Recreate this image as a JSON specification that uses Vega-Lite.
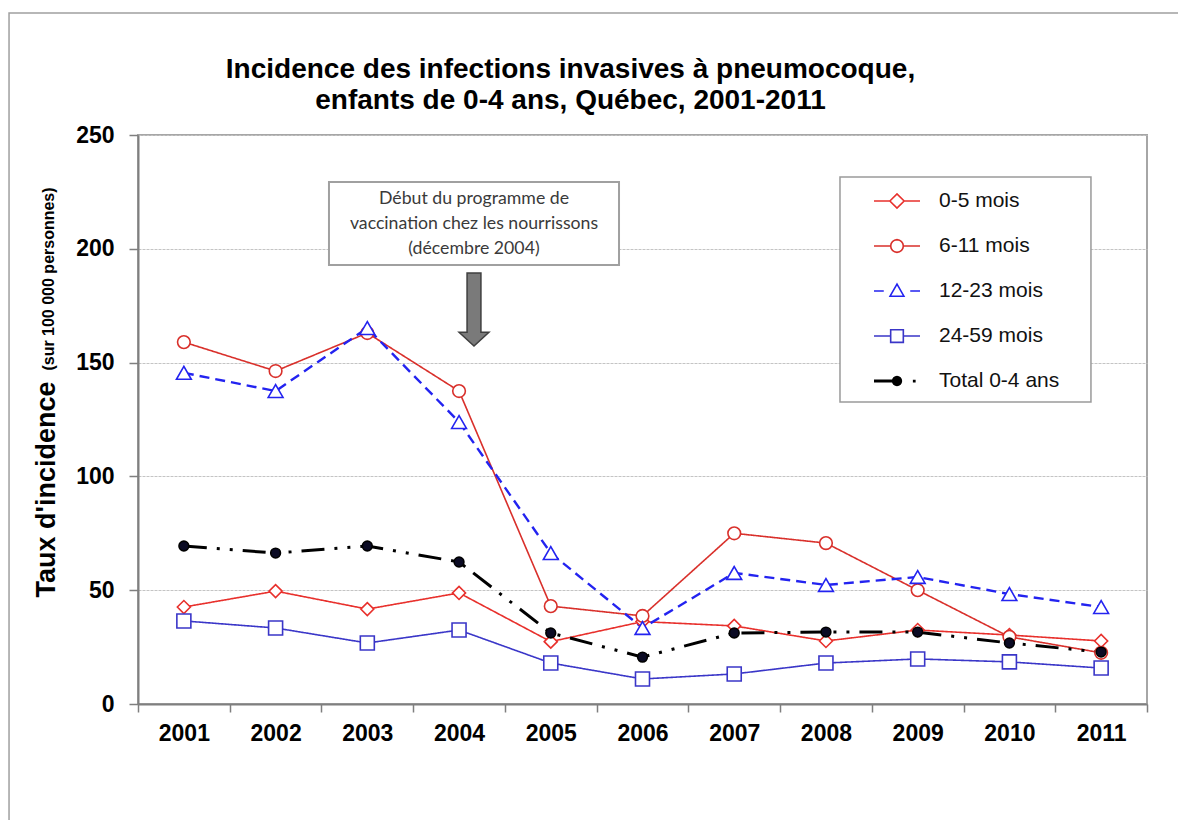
{
  "$schema": "https://vega.github.io/schema/vega-lite/v6.json",
  "width": 1009,
  "height": 569,
  "autosize": {"type": "none"},
  "padding": {"left": 138, "top": 135, "right": 31, "bottom": 116},
  "background": "white",
  "config": {
    "font": "Liberation Sans",
    "view": {"stroke": "#a6a6a6", "strokeWidth": 2},
    "legend": {
      "orient": "none",
      "legendX": 702,
      "legendY": 42,
      "padding": 11.5,
      "symbolSize": 529,
      "symbolStrokeWidth": 1.6,
      "symbolOffset": 33,
      "labelOffset": 29.5,
      "rowPadding": 22,
      "labelFont": "Liberation Sans",
      "labelFontSize": 21,
      "labelColor": "#111111",
      "labelLimit": 400
    }
  },
  "title": {
    "text": ["Incidence des infections invasives à pneumocoque,", "enfants de 0-4 ans, Québec, 2001-2011"],
    "font": "Liberation Sans",
    "fontSize": 28,
    "fontWeight": "bold",
    "color": "#000000",
    "anchor": "middle",
    "frame": "group",
    "dx": -72,
    "dy": 115,
    "offset": 12,
    "lineHeight": 31
  },
  "datasets": {
    "d": [
      {"year": 2001, "s": "0-5 mois", "v": 42.6},
      {"year": 2002, "s": "0-5 mois", "v": 49.6},
      {"year": 2003, "s": "0-5 mois", "v": 41.7},
      {"year": 2004, "s": "0-5 mois", "v": 48.8},
      {"year": 2005, "s": "0-5 mois", "v": 27.4},
      {"year": 2006, "s": "0-5 mois", "v": 36.2},
      {"year": 2007, "s": "0-5 mois", "v": 34.3},
      {"year": 2008, "s": "0-5 mois", "v": 27.7},
      {"year": 2009, "s": "0-5 mois", "v": 32.5},
      {"year": 2010, "s": "0-5 mois", "v": 30.3},
      {"year": 2011, "s": "0-5 mois", "v": 27.7},
      {"year": 2001, "s": "6-11 mois", "v": 159.0},
      {"year": 2002, "s": "6-11 mois", "v": 146.3},
      {"year": 2003, "s": "6-11 mois", "v": 163.0},
      {"year": 2004, "s": "6-11 mois", "v": 137.5},
      {"year": 2005, "s": "6-11 mois", "v": 43.0},
      {"year": 2006, "s": "6-11 mois", "v": 38.7},
      {"year": 2007, "s": "6-11 mois", "v": 75.0},
      {"year": 2008, "s": "6-11 mois", "v": 70.7},
      {"year": 2009, "s": "6-11 mois", "v": 50.0},
      {"year": 2010, "s": "6-11 mois", "v": 29.5},
      {"year": 2011, "s": "6-11 mois", "v": 22.5},
      {"year": 2001, "s": "12-23 mois", "v": 145.5},
      {"year": 2002, "s": "12-23 mois", "v": 137.5},
      {"year": 2003, "s": "12-23 mois", "v": 165.2},
      {"year": 2004, "s": "12-23 mois", "v": 123.9},
      {"year": 2005, "s": "12-23 mois", "v": 66.3},
      {"year": 2006, "s": "12-23 mois", "v": 33.4},
      {"year": 2007, "s": "12-23 mois", "v": 57.6},
      {"year": 2008, "s": "12-23 mois", "v": 52.3},
      {"year": 2009, "s": "12-23 mois", "v": 55.8},
      {"year": 2010, "s": "12-23 mois", "v": 48.3},
      {"year": 2011, "s": "12-23 mois", "v": 42.6},
      {"year": 2001, "s": "24-59 mois", "v": 36.5},
      {"year": 2002, "s": "24-59 mois", "v": 33.4},
      {"year": 2003, "s": "24-59 mois", "v": 26.8},
      {"year": 2004, "s": "24-59 mois", "v": 32.5},
      {"year": 2005, "s": "24-59 mois", "v": 18.0},
      {"year": 2006, "s": "24-59 mois", "v": 11.0},
      {"year": 2007, "s": "24-59 mois", "v": 13.2},
      {"year": 2008, "s": "24-59 mois", "v": 18.0},
      {"year": 2009, "s": "24-59 mois", "v": 19.8},
      {"year": 2010, "s": "24-59 mois", "v": 18.5},
      {"year": 2011, "s": "24-59 mois", "v": 15.8},
      {"year": 2001, "s": "Total 0-4 ans", "v": 69.4},
      {"year": 2002, "s": "Total 0-4 ans", "v": 66.3},
      {"year": 2003, "s": "Total 0-4 ans", "v": 69.4},
      {"year": 2004, "s": "Total 0-4 ans", "v": 62.4},
      {"year": 2005, "s": "Total 0-4 ans", "v": 31.2},
      {"year": 2006, "s": "Total 0-4 ans", "v": 20.6},
      {"year": 2007, "s": "Total 0-4 ans", "v": 31.2},
      {"year": 2008, "s": "Total 0-4 ans", "v": 31.6},
      {"year": 2009, "s": "Total 0-4 ans", "v": 31.6},
      {"year": 2010, "s": "Total 0-4 ans", "v": 26.8},
      {"year": 2011, "s": "Total 0-4 ans", "v": 22.8}
    ]
  },
  "data": {"name": "d"},
  "resolve": {"scale": {"shape": "independent", "fill": "independent", "color": "independent"}},
  "layer": [
    {
      "data": {"values": [{}]},
      "mark": {"type": "rect", "filled": false, "stroke": "#a0a0a0", "strokeWidth": 1.5, "clip": false},
      "encoding": {
        "x": {"datum": 1999.094, "type": "quantitative", "scale": {"domain": [2000.5, 2011.5], "nice": false, "zero": false}},
        "x2": {"datum": 2012.078},
        "y": {"datum": 303.6, "type": "quantitative", "scale": {"domain": [0, 250], "nice": false}},
        "y2": {"datum": -59.8}
      }
    },
    {
      "mark": {"type": "line", "clip": false},
      "encoding": {
        "x": {
          "field": "year", "type": "quantitative",
          "scale": {"domain": [2000.5, 2011.5], "nice": false, "zero": false},
          "axis": {
            "values": [2000.5, 2001.5, 2002.5, 2003.5, 2004.5, 2005.5, 2006.5, 2007.5, 2008.5, 2009.5, 2010.5, 2011.5],
            "labelExpr": "datum.value < 2011 ? format(datum.value + 0.5, 'd') : ''",
            "labelOffset": 45.86,
            "labelFlush": false,
            "labelOverlap": false,
            "labelBound": false,
            "labelFont": "Liberation Sans",
            "labelFontSize": 23,
            "labelFontWeight": "bold",
            "labelColor": "#000000",
            "labelPadding": 10,
            "tickSize": 8,
            "tickColor": "#7f7f7f",
            "tickWidth": 1.5,
            "domainColor": "#7f7f7f",
            "domainWidth": 2,
            "grid": false,
            "title": "(sur 100 000 personnes)",
            "titleFont": "Liberation Sans",
            "titleFontSize": 16,
            "titleFontWeight": "bold",
            "titleColor": "#000000",
            "titleAngle": -90,
            "titleAlign": "center",
            "titleBaseline": "alphabetic",
            "titleX": -85,
            "titleY": -425.5
          }
        },
        "y": {
          "field": "v", "type": "quantitative",
          "scale": {"domain": [0, 250], "nice": false},
          "axis": {
            "values": [0, 50, 100, 150, 200, 250],
            "labelFont": "Liberation Sans",
            "labelFontSize": 23,
            "labelFontWeight": "bold",
            "labelColor": "#000000",
            "labelPadding": 15,
            "tickSize": 9,
            "tickColor": "#7f7f7f",
            "tickWidth": 1.5,
            "domainColor": "#7f7f7f",
            "domainWidth": 2,
            "grid": true,
            "gridColor": "#c4c4c4",
            "gridWidth": 1.2,
            "gridDash": [3, 1],
            "title": "Taux d'incidence",
            "titleFont": "Liberation Sans",
            "titleFontSize": 27,
            "titleFontWeight": "bold",
            "titleColor": "#000000",
            "titleAngle": -90,
            "titleAlign": "center",
            "titleBaseline": "alphabetic",
            "titleX": -84,
            "titleY": 354
          }
        },
        "color": {
          "field": "s", "type": "nominal",
          "scale": {
            "domain": ["0-5 mois", "6-11 mois", "12-23 mois", "24-59 mois", "Total 0-4 ans"],
            "range": ["#e8302c", "#d9302b", "#2323f0", "#3a36c8", "#000000"]
          },
          "legend": null
        },
        "strokeDash": {
          "field": "s", "type": "nominal",
          "scale": {
            "domain": ["0-5 mois", "6-11 mois", "12-23 mois", "24-59 mois", "Total 0-4 ans"],
            "range": [[1, 0], [1, 0], [10, 6], [1, 0], [23, 10, 3, 10, 3, 10]]
          },
          "legend": null
        },
        "strokeWidth": {
          "condition": [
            {"test": "datum.s === 'Total 0-4 ans'", "value": 3},
            {"test": "datum.s === '12-23 mois'", "value": 2.4}
          ],
          "value": 1.6
        }
      }
    },
    {
      "mark": {"type": "point", "strokeWidth": 1.6, "opacity": 1, "clip": false},
      "encoding": {
        "x": {"field": "year", "type": "quantitative", "scale": {"domain": [2000.5, 2011.5], "nice": false, "zero": false}},
        "y": {"field": "v", "type": "quantitative", "scale": {"domain": [0, 250], "nice": false}},
        "color": {
          "field": "s", "type": "nominal",
          "scale": {
            "domain": ["0-5 mois", "6-11 mois", "12-23 mois", "24-59 mois", "Total 0-4 ans"],
            "range": ["#e8302c", "#d9302b", "#2323f0", "#3a36c8", "#000000"]
          },
          "legend": null
        },
        "shape": {
          "field": "s", "type": "nominal",
          "scale": {
            "domain": ["0-5 mois", "6-11 mois", "12-23 mois", "24-59 mois", "Total 0-4 ans"],
            "range": ["diamond", "circle", "triangle-up", "square", "circle"]
          },
          "legend": null
        },
        "fill": {
          "field": "s", "type": "nominal",
          "scale": {
            "domain": ["0-5 mois", "6-11 mois", "12-23 mois", "24-59 mois", "Total 0-4 ans"],
            "range": ["#ffffff", "#ffffff", "#ffffff", "#ffffff", "#0b0b24"]
          },
          "legend": null
        },
        "size": {
          "condition": [
            {"test": "datum.s === 'Total 0-4 ans'", "value": 95},
            {"test": "datum.s === '0-5 mois'", "value": 170},
            {"test": "datum.s === '6-11 mois'", "value": 160},
            {"test": "datum.s === '12-23 mois'", "value": 220}
          ],
          "value": 196
        }
      }
    },
    {
      "data": {"values": [{}]},
      "mark": {"type": "rect", "fill": "#ffffff", "stroke": "#a0a0a0", "strokeWidth": 2, "clip": false},
      "encoding": {
        "x": {"datum": 2002.582, "type": "quantitative"},
        "x2": {"datum": 2005.744},
        "y": {"datum": 229.4, "type": "quantitative"},
        "y2": {"datum": 192.9}
      }
    },
    {
      "data": {"values": [{}]},
      "mark": {"type": "rect", "fill": "#ffffff", "stroke": "#9a9a9a", "strokeWidth": 1.5, "clip": false},
      "encoding": {
        "x": {"datum": 2008.153, "type": "quantitative"},
        "x2": {"datum": 2010.889},
        "y": {"datum": 231.55, "type": "quantitative"},
        "y2": {"datum": 132.69}
      }
    },
    {
      "data": {"values": [{}]},
      "mark": {
        "type": "text",
        "text": ["Début du programme de", "vaccination chez les nourrissons", "(décembre 2004)"],
        "font": "Lato",
        "fontSize": 17.7,
        "lineHeight": 25,
        "color": "#3a3a3a",
        "align": "center",
        "baseline": "middle",
        "clip": false
      },
      "encoding": {
        "x": {"datum": 2004.163, "type": "quantitative"},
        "y": {"datum": 222.1, "type": "quantitative"}
      }
    },
    {
      "data": {"values": [{}]},
      "mark": {
        "type": "point",
        "shape": "M-0.19,-1L0.19,-1L0.19,0.62L0.41,0.62L0,1L-0.41,0.62L-0.19,0.62Z",
        "size": 5329,
        "filled": true,
        "fill": "#7a7a7a",
        "stroke": "#3f3f3f",
        "strokeWidth": 1.5,
        "opacity": 1,
        "clip": false
      },
      "encoding": {
        "x": {"datum": 2004.163, "type": "quantitative"},
        "y": {"datum": 173.3, "type": "quantitative"}
      }
    },
    {
      "transform": [{"filter": "false"}],
      "mark": {"type": "point", "filled": false, "opacity": 1, "strokeWidth": 1.6, "clip": false},
      "encoding": {
        "shape": {
          "field": "s", "type": "nominal",
          "scale": {
            "domain": ["0-5 mois", "6-11 mois", "12-23 mois", "24-59 mois", "Total 0-4 ans"],
            "range": [
              "M-2,0L-0.62,0M0.62,0L2,0M-0.62,0L0,-0.62L0.62,0L0,0.62Z",
              "M-2,0L-0.55,0M0.55,0L2,0M0.55,0L0.508,0.21L0.389,0.389L0.21,0.508L0,0.55L-0.21,0.508L-0.389,0.389L-0.508,0.21L-0.55,0L-0.508,-0.21L-0.389,-0.389L-0.21,-0.508L0,-0.55L0.21,-0.508L0.389,-0.389L0.508,-0.21Z",
              "M-2,0L-1.15,0M1.15,0L2,0M-0.6,0.45L0,-0.6L0.6,0.45Z",
              "M-2,0L-0.55,0M0.55,0L2,0M-0.55,-0.55L0.55,-0.55L0.55,0.55L-0.55,0.55Z",
              "M-2,-0.07L0,-0.07M-2,0.07L0,0.07M0.38,0L0.351,0.145L0.269,0.269L0.145,0.351L0,0.38L-0.145,0.351L-0.269,0.269L-0.351,0.145L-0.38,0L-0.351,-0.145L-0.269,-0.269L-0.145,-0.351L0,-0.38L0.145,-0.351L0.269,-0.269L0.351,-0.145ZM0.26,0L0.184,0.184L0,0.26L-0.184,0.184L-0.26,0L-0.184,-0.184L0,-0.26L0.184,-0.184ZM0.13,0L0.092,0.092L0,0.13L-0.092,0.092L-0.13,0L-0.092,-0.092L0,-0.13L0.092,-0.092ZM-0.03,-0.03L0.03,-0.03L0.03,0.03L-0.03,0.03ZM1.45,-0.05L1.55,-0.05L1.55,0.05L1.45,0.05Z"
            ]
          },
          "legend": {"title": null}
        },
        "color": {
          "field": "s", "type": "nominal",
          "scale": {
            "domain": ["0-5 mois", "6-11 mois", "12-23 mois", "24-59 mois", "Total 0-4 ans"],
            "range": ["#e8302c", "#d9302b", "#2323f0", "#3a36c8", "#000000"]
          },
          "legend": {"title": null}
        }
      }
    }
  ]
}
